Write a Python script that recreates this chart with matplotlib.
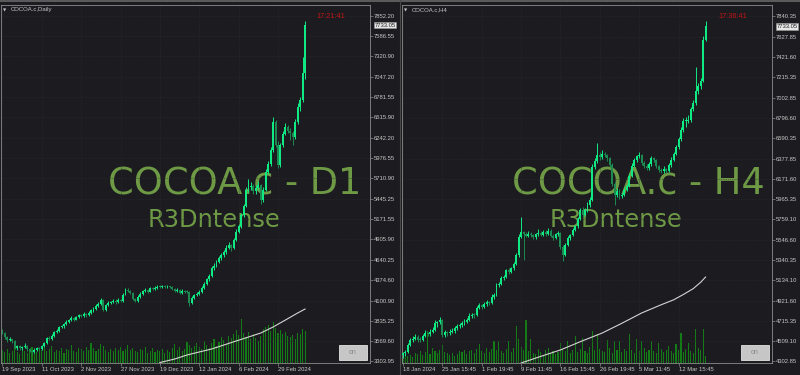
import numpy as np
import matplotlib
matplotlib.use("Agg")
import matplotlib.pyplot as plt
from matplotlib.patches import Rectangle

plt.rcParams['font.family'] = ['Liberation Sans', 'DejaVu Sans']

# ---------------- data: COCOA.c Daily ----------------
d1_open = [3700, 3673, 3620, 3581, 3590, 3568, 3475, 3500, 3470, 3489, 3502, 3460, 3440, 3423, 3455, 3475,
           3468, 3502, 3540, 3607, 3590, 3640, 3686, 3700, 3752, 3760, 3790, 3818, 3840, 3871, 3850, 3880,
           3910, 3897, 3920, 3905, 3937, 3970, 3990, 4029, 4060, 4108, 3976, 4040, 4070, 4082, 4100, 4080,
           4110, 4095, 4180, 4240, 4230, 4200, 4120, 4095, 4150, 4190, 4227, 4240, 4220, 4266, 4250, 4270,
           4285, 4279, 4290, 4275, 4285, 4279, 4250, 4227, 4240, 4200, 4230, 4220, 4213, 4068, 4134, 4170,
           4190, 4213, 4270, 4319, 4380, 4420, 4530, 4560, 4610, 4662, 4700, 4740, 4800, 4833, 4790, 4900,
           5004, 5080, 5228, 5350, 5558, 5600, 5610, 5540, 5584, 5620, 5426, 5560, 5795, 5900, 6085, 6454,
           6151, 5887, 6151, 6300, 6388, 6340, 6309, 6256, 6454, 6650, 6744, 7100]
d1_high = [3720, 3690, 3640, 3615, 3600, 3580, 3520, 3515, 3505, 3540, 3515, 3475, 3455, 3470, 3495, 3490,
           3520, 3555, 3625, 3630, 3660, 3705, 3725, 3770, 3785, 3810, 3840, 3860, 3895, 3885, 3900, 3930,
           3925, 3945, 3935, 3960, 3990, 4010, 4050, 4080, 4140, 4120, 4060, 4090, 4100, 4120, 4115, 4130,
           4125, 4200, 4270, 4265, 4245, 4215, 4135, 4170, 4210, 4245, 4260, 4255, 4285, 4280, 4290, 4300,
           4305, 4310, 4300, 4300, 4295, 4290, 4265, 4260, 4250, 4250, 4245, 4240, 4225, 4160, 4190, 4210,
           4235, 4290, 4340, 4400, 4445, 4555, 4590, 4640, 4690, 4730, 4770, 4830, 4870, 4850, 4930, 5040,
           5110, 5260, 5380, 5600, 5700, 5660, 5640, 5620, 5680, 5640, 5600, 5830, 5940, 6130, 6520, 6480,
           6200, 6180, 6340, 6440, 6420, 6370, 6330, 6500, 6700, 6790, 7310, 7790]
d1_low = [3655, 3600, 3560, 3565, 3545, 3460, 3455, 3450, 3450, 3475, 3440, 3420, 3395, 3410, 3440, 3450,
          3455, 3490, 3530, 3575, 3580, 3625, 3670, 3690, 3735, 3745, 3775, 3800, 3825, 3830, 3840, 3865,
          3880, 3885, 3890, 3895, 3925, 3955, 3980, 4015, 4045, 3960, 3965, 4025, 4050, 4065, 4060, 4070,
          4080, 4085, 4170, 4210, 4185, 4105, 4080, 4085, 4140, 4180, 4215, 4205, 4210, 4235, 4240, 4255,
          4265, 4270, 4260, 4265, 4260, 4235, 4210, 4215, 4185, 4190, 4205, 4195, 4030, 4055, 4120, 4155,
          4175, 4200, 4255, 4305, 4365, 4405, 4510, 4540, 4595, 4640, 4680, 4720, 4780, 4760, 4775, 4880,
          4985, 5060, 5200, 5330, 5530, 5560, 5500, 5510, 5560, 5380, 5400, 5540, 5770, 5880, 6060, 6120,
          5850, 5860, 6130, 6280, 6310, 6220, 6150, 6230, 6430, 6600, 6720, 7020]
d1_close = [3673, 3620, 3581, 3590, 3568, 3475, 3500, 3470, 3489, 3502, 3460, 3440, 3423, 3455, 3475, 3468,
            3502, 3540, 3607, 3590, 3640, 3686, 3700, 3752, 3760, 3790, 3818, 3840, 3871, 3850, 3880, 3910,
            3897, 3920, 3905, 3937, 3970, 3990, 4029, 4060, 4108, 3976, 4040, 4070, 4082, 4100, 4080, 4110,
            4095, 4180, 4240, 4230, 4200, 4120, 4095, 4150, 4190, 4227, 4240, 4220, 4266, 4250, 4270, 4285,
            4279, 4290, 4275, 4285, 4279, 4250, 4227, 4240, 4200, 4230, 4220, 4213, 4068, 4134, 4170, 4190,
            4213, 4270, 4319, 4380, 4420, 4530, 4560, 4610, 4662, 4700, 4740, 4800, 4833, 4790, 4900, 5004,
            5080, 5228, 5350, 5558, 5600, 5610, 5540, 5584, 5620, 5426, 5560, 5795, 5900, 6085, 6454, 6151,
            5887, 6151, 6300, 6388, 6340, 6309, 6256, 6454, 6650, 6744, 7100, 7733]
d1_volume = [13, 11, 14, 10, 12, 15, 11, 9, 14, 12, 10, 13, 16, 12, 11, 14,
             13, 15, 12, 14, 17, 11, 13, 12, 15, 10, 14, 13, 18, 12, 11, 15,
             14, 12, 16, 13, 20, 15, 12, 14, 19, 17, 13, 11, 14, 12, 15, 13,
             16, 12, 14, 18, 13, 15, 12, 11, 14, 13, 16, 10, 12, 15, 11, 13,
             12, 14, 10, 13, 11, 15, 19, 13, 16, 12, 14, 21, 18, 15, 17, 20,
             16, 14, 22, 18, 15, 20, 24, 17, 21, 26, 23, 19, 27, 25, 29, 33,
             28, 44, 30, 26, 31, 24, 29, 25, 22, 27, 34, 36, 38, 32, 41, 35,
             30, 33, 29, 31, 27, 26, 28, 24, 30, 29, 34, 32]
d1_line_bar = [64, 70, 75, 80, 85, 90, 95, 100, 105, 110, 115, 120, 123]
d1_line_val = [3284, 3330, 3383, 3423, 3462, 3515, 3568, 3620, 3673, 3752, 3844, 3937, 3989]
d1_yticks = [3303.95, 3569.60, 3835.25, 4100.90, 4374.60, 4640.25, 4905.90, 5171.55, 5445.25,
             5710.90, 5976.55, 6242.20, 6515.90, 6781.55, 7047.20, 7320.90, 7586.55, 7852.20]
d1_xtick_bar = [0, 16, 32, 48, 64, 80, 96, 112]
d1_xtick_lab = ['19 Sep 2023', '11 Oct 2023', '2 Nov 2023', '27 Nov 2023', '19 Dec 2023',
                '12 Jan 2024', '6 Feb 2024', '29 Feb 2024']

# ---------------- data: COCOA.c H4 ----------------
h4_open = [4360, 4380, 4395, 4470, 4518, 4530, 4549, 4520, 4518, 4560, 4590, 4575, 4600, 4621, 4692, 4700,
           4723, 4569, 4600, 4585, 4605, 4610, 4640, 4660, 4672, 4690, 4703, 4720, 4760, 4775, 4770, 4850,
           4877, 4860, 4890, 4908, 4900, 4960, 4980, 5082, 5090, 5154, 5160, 5236, 5220, 5257, 5300, 5390,
           5574, 5626, 5600, 5585, 5610, 5595, 5570, 5600, 5620, 5595, 5630, 5600, 5640, 5585, 5560, 5600,
           5615, 5470, 5390, 5492, 5560, 5595, 5650, 5687, 5760, 5851, 5800, 5851, 5900, 5954, 6292, 6350,
           6415, 6390, 6430, 6415, 6380, 6313, 6120, 6005, 6050, 5990, 6005, 6060, 6097, 6200, 6302, 6360,
           6400, 6415, 6330, 6300, 6282, 6320, 6380, 6364, 6300, 6260, 6251, 6270, 6251, 6310, 6364, 6430,
           6497, 6580, 6671, 6760, 6764, 6770, 6890, 6948, 7071, 7120, 7174, 7594]
h4_high = [4400, 4420, 4490, 4540, 4560, 4580, 4565, 4545, 4580, 4620, 4605, 4630, 4650, 4720, 4715, 4750,
           4735, 4620, 4615, 4630, 4640, 4660, 4680, 4690, 4710, 4730, 4745, 4790, 4800, 4790, 4870, 4900,
           4890, 4910, 4930, 4920, 4985, 5000, 5100, 5110, 5175, 5180, 5250, 5260, 5270, 5320, 5410, 5600,
           5780, 5640, 5630, 5640, 5625, 5610, 5620, 5660, 5635, 5650, 5645, 5670, 5655, 5600, 5620, 5640,
           5630, 5490, 5510, 5580, 5610, 5670, 5700, 5780, 5870, 5880, 5870, 5930, 5980, 6320, 6380, 6540,
           6450, 6470, 6445, 6430, 6395, 6330, 6140, 6080, 6070, 6030, 6090, 6120, 6230, 6330, 6380, 6420,
           6450, 6430, 6350, 6320, 6340, 6410, 6395, 6375, 6315, 6280, 6300, 6285, 6330, 6390, 6450, 6520,
           6600, 6700, 6790, 6800, 6830, 6910, 6980, 7320, 7150, 7200, 7640, 7790]
h4_low = [4330, 4350, 4380, 4455, 4500, 4515, 4500, 4495, 4505, 4545, 4555, 4560, 4585, 4610, 4650, 4680,
          4550, 4550, 4560, 4570, 4590, 4595, 4625, 4640, 4655, 4670, 4690, 4710, 4740, 4745, 4760, 4835,
          4840, 4845, 4870, 4880, 4890, 4940, 4965, 5060, 5080, 5130, 5150, 5200, 5205, 5240, 5285, 5370,
          5560, 5340, 5570, 5570, 5575, 5550, 5555, 5585, 5580, 5585, 5585, 5590, 5570, 5545, 5550, 5585,
          5450, 5330, 5375, 5480, 5545, 5580, 5635, 5670, 5745, 5780, 5785, 5835, 5885, 5940, 6270, 6330,
          6360, 6375, 6390, 6350, 6290, 6100, 5900, 5985, 5960, 5975, 5990, 6045, 6085, 6185, 6290, 6340,
          6380, 6310, 6280, 6260, 6265, 6305, 6340, 6285, 6240, 6230, 6235, 6230, 6240, 6295, 6350, 6415,
          6480, 6560, 6650, 6700, 6740, 6750, 6870, 6930, 7040, 7090, 7160, 7580]
h4_close = [4380, 4395, 4470, 4518, 4530, 4549, 4520, 4518, 4560, 4590, 4575, 4600, 4621, 4692, 4700, 4723,
            4569, 4600, 4585, 4605, 4610, 4640, 4660, 4672, 4690, 4703, 4720, 4760, 4775, 4770, 4850, 4877,
            4860, 4890, 4908, 4900, 4960, 4980, 5082, 5090, 5154, 5160, 5236, 5220, 5257, 5300, 5390, 5574,
            5626, 5600, 5585, 5610, 5595, 5570, 5600, 5620, 5595, 5630, 5600, 5640, 5585, 5560, 5600, 5615,
            5470, 5390, 5492, 5560, 5595, 5650, 5687, 5760, 5851, 5800, 5851, 5900, 5954, 6292, 6350, 6415,
            6390, 6430, 6415, 6380, 6313, 6120, 6005, 6050, 5990, 6005, 6060, 6097, 6200, 6302, 6360, 6400,
            6415, 6330, 6300, 6282, 6320, 6380, 6364, 6300, 6260, 6251, 6270, 6251, 6310, 6364, 6430, 6497,
            6580, 6671, 6760, 6764, 6770, 6890, 6948, 7071, 7120, 7174, 7594, 7733]
h4_volume = [5, 6, 7, 8, 6, 10, 9, 12, 8, 11, 32, 9, 15, 12, 10, 13,
             18, 11, 10, 8, 10, 7, 9, 12, 11, 13, 9, 12, 13, 10, 14, 19,
             12, 10, 15, 11, 14, 22, 13, 22, 12, 10, 14, 22, 11, 15, 37, 24,
             16, 13, 43, 12, 24, 10, 9, 14, 11, 8, 13, 15, 10, 12, 9, 11,
             20, 14, 12, 22, 10, 13, 27, 11, 14, 25, 12, 10, 16, 32, 13, 29,
             14, 12, 11, 23, 15, 10, 22, 13, 22, 11, 14, 12, 29, 13, 10, 24,
             12, 22, 15, 11, 13, 22, 12, 10, 20, 14, 11, 13, 17, 12, 10, 19,
             13, 30, 11, 14, 20, 12, 10, 34, 15, 13, 34, 7]
h4_line_bar = [48, 56, 64, 72, 81, 89, 97, 105, 110, 114, 118, 121, 123]
h4_line_val = [4282, 4350, 4416, 4500, 4590, 4690, 4795, 4880, 4930, 4985, 5045, 5110, 5164]
h4_yticks = [4302.85, 4509.10, 4715.35, 4921.60, 5134.10, 5340.35, 5546.60, 5759.10, 5965.35,
             6171.60, 6377.85, 6590.35, 6796.60, 7002.85, 7215.35, 7421.60, 7627.85, 7840.35]
h4_xtick_bar = [0, 16, 32, 48, 64, 80, 96, 112]
h4_xtick_lab = ['18 Jan 2024', '25 Jan 15:45', '1 Feb 19:45', '9 Feb 11:45', '16 Feb 15:45',
                '26 Feb 19:45', '5 Mar 11:45', '12 Mar 15:45']

last_price = 7733.05

# ---------------- style ----------------
W, H = 800, 375
BG = '#1c1c20'
FRAME = '#8c8c8c'
TXT = '#c8c8c8'
BULL = '#10ea84'
BEAR = '#1d8a52'
VOL = '#147c16'
MARK = '#6e9a45'
BAR_PX = 2.46

fig = plt.figure(figsize=(8, 3.75), dpi=100)
fig.patch.set_facecolor(BG)


def fx(x):
    return x / W


def fy(y):
    return 1 - y / H


def px_axes(x0, y0, x1, y1):
    return fig.add_axes([fx(x0), fy(y1), (x1 - x0) / W, (y1 - y0) / H])


def panel(x0, x1, y0, y1, x_off, ylo, yhi, o, h, l, c, vol, line_bar, line_val,
          yticks, xbars, xlabs, tf_name, title, clock):
    width_px = x1 - x0
    xlim = (-x_off, -x_off + width_px / BAR_PX)

    # volume underneath
    axv = px_axes(x0, y0, x1, y1)
    axv.set_facecolor(BG)
    axv.bar(np.arange(len(vol)), vol, width=0.45, color=VOL, linewidth=0)
    axv.set_xlim(*xlim)
    axv.set_ylim(0, y1 - y0)
    axv.axis('off')

    ax = px_axes(x0, y0, x1, y1)
    ax.set_facecolor('none')
    x = np.arange(len(c))
    o, h, l, c = map(np.asarray, (o, h, l, c))
    cols = np.where(c >= o, BULL, BEAR)
    ax.vlines(x, l, h, colors=cols, linewidth=0.7, zorder=3)
    ax.bar(x, np.maximum(np.abs(c - o), 10), bottom=np.minimum(o, c), width=0.78,
           color=cols, linewidth=0, zorder=3)
    ax.plot(line_bar, line_val, color='#d4d4d4', linewidth=0.8, zorder=4)

    ax.set_xlim(*xlim)
    ax.set_ylim(ylo, yhi)
    ax.set_yticks(yticks)
    ax.set_yticklabels([f'{v:.2f}' for v in yticks])
    ax.set_xticks(xbars)
    ax.set_xticklabels(xlabs, ha='left')
    ax.yaxis.tick_right()
    ax.tick_params(axis='y', length=2, width=0.5, color=FRAME, labelcolor=TXT,
                   labelsize=4.2, pad=1)
    ax.tick_params(axis='x', length=2, width=0.5, color=FRAME, labelcolor=TXT,
                   labelsize=4.2, pad=1)
    ax.grid(True, color='#2b2b31', linestyle=':', linewidth=0.5, zorder=0)
    for s in ax.spines.values():
        s.set_color(FRAME)
        s.set_linewidth(0.6)

    # watermark
    ax.text(0.29 if tf_name == 'D1' else 0.297, 0.47, f'COCOA.c - {tf_name}',
            transform=ax.transAxes, color=MARK, fontsize=26.5,
            family='DejaVu Sans', ha='left', va='baseline', zorder=1)
    ax.text(0.398, 0.381, 'R3Dntense', transform=ax.transAxes, color=MARK,
            fontsize=17.4, family='DejaVu Sans', ha='left', va='baseline', zorder=1)

    # clock, title, current price
    ax.text(0.895, 0.969, clock, transform=ax.transAxes, color='#c41414',
            fontsize=5.3, ha='center', va='center')
    fig.text(fx(x0 + 2), fy(10), '\u25bc', color=TXT, fontsize=3, ha='left',
             va='center', family='DejaVu Sans')
    fig.text(fx(x0 + 10), fy(10), title, color=TXT, fontsize=4.35, ha='left', va='center')
    ax.text(1.012, last_price, f'{last_price:.2f}',
            transform=ax.get_yaxis_transform(), color='#202020', fontsize=4.2,
            ha='left', va='center', zorder=6,
            bbox=dict(boxstyle='square,pad=0.15', fc='#e6e6e6', ec='#9a9a9a', lw=0.4))

    # "on" button
    bx0, by0 = x1 - 31, y1 - 18
    fig.patches.append(Rectangle((fx(bx0), fy(by0 + 15)), 28 / W, 15 / H,
                                 transform=fig.transFigure, fc='#c6c6c6',
                                 ec='#e2e2e2', lw=0.6, zorder=5))
    fig.text(fx(bx0 + 14), fy(by0 + 7.5), 'on', color='#8a8a8a', fontsize=5,
             ha='center', va='center', zorder=6)
    return ax


panel(1, 370, 5, 363, 0.6, 3277.6, 7997.2, d1_open, d1_high, d1_low, d1_close, d1_volume,
      d1_line_bar, d1_line_val, d1_yticks, d1_xtick_bar, d1_xtick_lab,
      'D1', 'COCOA.c,Daily', '17:21:41')
panel(402, 772, 5, 363, 0.4, 4282.3, 7953.3, h4_open, h4_high, h4_low, h4_close, h4_volume,
      h4_line_bar, h4_line_val, h4_yticks, h4_xtick_bar, h4_xtick_lab,
      'H4', 'COCOA.c,H4', '17:36:41')

# window border and separator
fig.patches.append(Rectangle((0, fy(2)), 1, 2 / H, transform=fig.transFigure,
                             fc='#5a5a5a', lw=0))
fig.lines.append(plt.Line2D([fx(399.5), fx(399.5)], [0, 1], transform=fig.transFigure,
                            color='#4a4a4a', lw=0.8))

fig.savefig('out.png', dpi=100, facecolor=fig.get_facecolor())
